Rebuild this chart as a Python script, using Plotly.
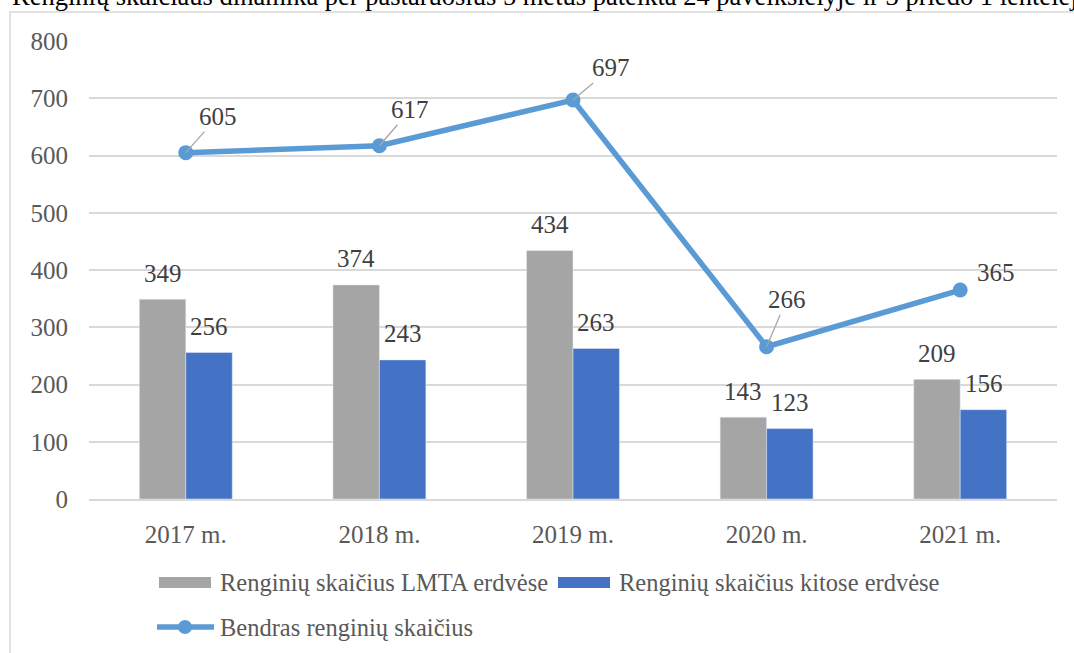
import plotly.graph_objects as go

# ---- data ----
years = ["2017 m.", "2018 m.", "2019 m.", "2020 m.", "2021 m."]
lmta_values = [349, 374, 434, 143, 209]
other_values = [256, 243, 263, 123, 156]
total_values = [605, 617, 697, 266, 365]

name_lmta = "Renginių skaičius LMTA erdvėse"
name_other = "Renginių skaičius kitose erdvėse"
name_total = "Bendras renginių skaičius"
heading = "Renginių skaičiaus dinamika per pastaruosius 5 metus pateikta 24 paveikslėlyje ir 3 priedo 1 lentelėje."

# ---- style ----
GRAY = "#A5A5A5"
BLUE = "#4472C4"
LINE = "#5B9BD5"
TXT = "#595959"
LBL = "#404040"
GRID = "#D9D9D9"
FONT = "Liberation Serif"

W, H = 1074, 653
L, R, T, B = 89, 1057, 41, 499
PW, PH = R - L, B - T


def px(x):
    return (x - L) / PW


def py(y):
    return (B - y) / PH


# label offsets (pixels) for the line labels
line_label_offsets = [(32, -36), (31, -36), (38, -32), (20, -47), (36, -18)]
line_label_arrow = [True, True, True, True, False]

fig = go.Figure()
fig.add_trace(go.Bar(x=years, y=lmta_values, name=name_lmta, marker_color=GRAY,
                     showlegend=False))
fig.add_trace(go.Bar(x=years, y=other_values, name=name_other, marker_color=BLUE,
                     showlegend=False))
fig.add_trace(go.Scatter(x=years, y=total_values, name=name_total, mode="lines+markers",
                         line=dict(color=LINE, width=5.5),
                         marker=dict(size=15, color=LINE), showlegend=False))

annotations = []
# bar labels
for cat, v in zip(years, lmta_values):
    annotations.append(dict(x=cat, y=v, xref="x", yref="y", text=str(v), showarrow=False,
                            xshift=-23.3, yshift=26, yanchor="middle",
                            font=dict(family=FONT, size=25, color=LBL)))
for cat, v in zip(years, other_values):
    annotations.append(dict(x=cat, y=v, xref="x", yref="y", text=str(v), showarrow=False,
                            xshift=23.3, yshift=26, yanchor="middle",
                            font=dict(family=FONT, size=25, color=LBL)))
# line labels
for cat, v, (dx, dy), arr in zip(years, total_values, line_label_offsets, line_label_arrow):
    if arr:
        annotations.append(dict(x=cat, y=v, xref="x", yref="y", text=str(v), showarrow=True,
                                ax=dx, ay=dy, arrowhead=0, arrowwidth=1.3,
                                arrowcolor="#A6A6A6", standoff=0,
                                font=dict(family=FONT, size=25, color=LBL)))
    else:
        annotations.append(dict(x=cat, y=v, xref="x", yref="y", text=str(v), showarrow=False,
                                xshift=dx, yshift=-dy, yanchor="middle",
                                font=dict(family=FONT, size=25, color=LBL)))

# heading text, cut at the top of the image (as in the reference)
annotations.append(dict(x=px(10), y=py(13), xref="paper", yref="paper", text=heading,
                        showarrow=False, xanchor="left", yanchor="bottom",
                        font=dict(family=FONT, size=26.5, color="#000000")))

# custom legend
shapes = [
    # outer frame
    dict(type="rect", xref="paper", yref="paper", x0=px(10), x1=px(1090), y0=py(670), y1=py(12),
         line=dict(color=GRID, width=1.5), fillcolor="rgba(0,0,0,0)", layer="below"),
    dict(type="rect", xref="paper", yref="paper", x0=px(159), x1=px(211), y0=py(588), y1=py(577),
         line=dict(width=0), fillcolor=GRAY),
    dict(type="rect", xref="paper", yref="paper", x0=px(558), x1=px(610), y0=py(588), y1=py(577),
         line=dict(width=0), fillcolor=BLUE),
    dict(type="line", xref="paper", yref="paper", x0=px(157), x1=px(214), y0=py(627), y1=py(627),
         line=dict(color=LINE, width=5.5)),
    dict(type="circle", xref="paper", yref="paper", x0=px(178), x1=px(192), y0=py(634),
         y1=py(620), line=dict(width=0), fillcolor=LINE),
]
for xpos, ypos, txt in [(218, 582, name_lmta), (617, 582, name_other), (218, 627, name_total)]:
    annotations.append(dict(x=px(xpos), y=py(ypos), xref="paper", yref="paper", text=txt,
                            showarrow=False, xanchor="left", yanchor="middle",
                            font=dict(family=FONT, size=24.5, color=TXT)))

fig.update_layout(
    width=W, height=H,
    margin=dict(l=L, r=W - R, t=T, b=H - B, autoexpand=False),
    paper_bgcolor="white", plot_bgcolor="white",
    barmode="group", bargap=0.52, bargroupgap=0,
    annotations=annotations, shapes=shapes,
    showlegend=False,
    font=dict(family=FONT, size=25, color=TXT),
)
fig.update_xaxes(showgrid=False, showline=True, linecolor=GRID, linewidth=1.5,
                 ticks="", tickfont=dict(family=FONT, size=25, color=TXT),
                 ticklabelstandoff=12)
fig.update_yaxes(range=[0, 800], dtick=100, showgrid=True, gridcolor=GRID, gridwidth=1.5,
                 zeroline=False, showline=False, ticks="",
                 tickfont=dict(family=FONT, size=25, color=TXT), ticklabelstandoff=20)

fig.write_html("out.html", config={"displayModeBar": False},
               post_script="document.body.style.margin='0';document.body.style.overflow='hidden';")
